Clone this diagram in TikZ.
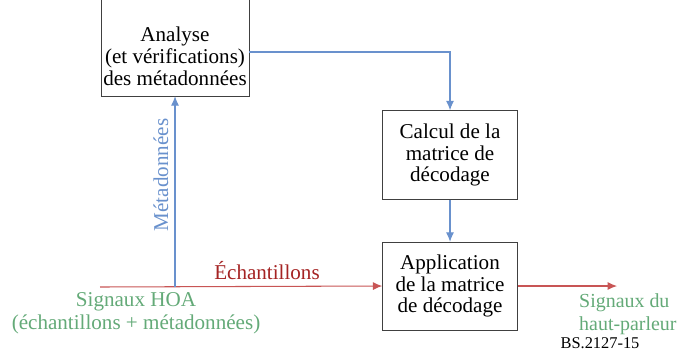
\documentclass[tikz,border=0pt]{standalone}
\usepackage{fontspec}
\setmainfont{Liberation Serif}
\usetikzlibrary{shadows,arrows.meta}
\definecolor{metablue}{RGB}{105,145,205}
\definecolor{samplered}{RGB}{200,85,85}
\definecolor{sampletxt}{RGB}{165,35,35}
\definecolor{siggreen}{RGB}{100,170,120}

\begin{document}
\begin{tikzpicture}[x=0.03cm,y=-0.03cm,>={Latex[length=2.8mm,width=2.4mm]},
box/.style={draw=black!75,fill=white,align=center,inner sep=2pt,
font=\fontsize{18}{18.6}\selectfont,
drop shadow={shadow xshift=0.7pt,shadow yshift=-0.7pt,fill=black!45,opacity=.8}},
txt/.style={font=\fontsize{18}{20}\selectfont},
bluearr/.style={draw=metablue,line width=0.9pt,->},
redarr/.style={draw=samplered,line width=0.9pt,->}]
\clip (0,0) rectangle (681,361);
\fill[white] (0,0) rectangle (681,361);
% blocs
\node[box,minimum width=4.44cm,minimum height=3cm] (ana) at (175,46)
 {\rule{0pt}{30pt}Analyse\\(et vérifications)\\des métadonnées};
\node[box,minimum width=4.05cm,minimum height=2.67cm] (calc) at (450,155)
 {Calcul de la\\matrice de\\décodage};
\node[box,minimum width=4.05cm,minimum height=2.64cm] (app) at (450,286)
 {Application\\de la matrice\\de décodage};
% points libres
\coordinate (turn) at (450,52);
\coordinate (hoa) at (100,287);
\coordinate (split) at (175,287);
\coordinate (out) at (617,286);
% liaisons
\draw[bluearr] (ana.east |- turn) -| (calc.north);
\draw[bluearr] (calc.south) -- (app.north);
\draw[redarr] (hoa) -- (app.west);
\draw[bluearr] (split) -- (ana.south);
\draw[redarr] (app.east) -- (out);
% textes
\node[txt,text=metablue,rotate=90] (meta) at (161,175) {Métadonnées};
\node[txt,text=sampletxt] (ech) at (267,271) {Échantillons};
\node[txt,text=siggreen,align=center] (hoatxt) at (136,313)
 {Signaux HOA\\(échantillons + métadonnées)};
\node[txt,font=\fontsize{17}{20}\selectfont,text=siggreen,align=left,anchor=west,inner sep=0pt] (hp) at (579,314)
 {Signaux du\\haut-parleur};
\node[font=\fontsize{14}{16}\selectfont] (ref) at (600,343) {BS.2127-15};
\end{tikzpicture}
\end{document}
